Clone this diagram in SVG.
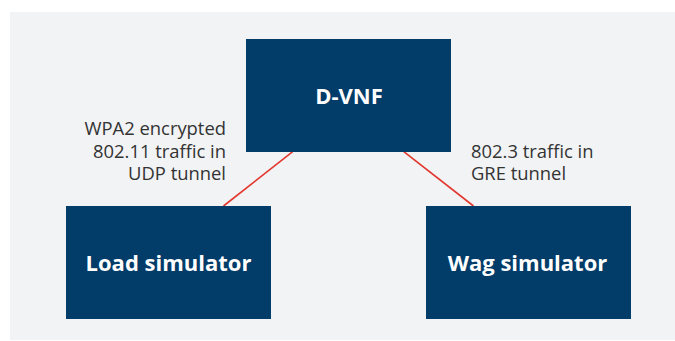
<svg xmlns="http://www.w3.org/2000/svg" width="675" height="341" viewBox="0 0 675 341">
<style>
.box{fill:#023c69}
.title{font-family:"Open Sans","Liberation Sans",sans-serif;font-weight:700;font-size:22px;fill:#ffffff;text-anchor:middle}
.lbl{font-family:"Open Sans","Liberation Sans",sans-serif;font-size:18.4px;fill:#333333}
.conn{stroke:#e2372e;stroke-width:1.6;fill:none}
</style>
<rect x="0" y="0" width="675" height="341" fill="#ffffff"/>
<rect x="10" y="12" width="665" height="328" fill="#f2f3f5"/>
<g id="connectors">
<line class="conn" x1="292.7" y1="151.7" x2="223.5" y2="206"/>
<line class="conn" x1="403.8" y1="151.7" x2="473.5" y2="206"/>
</g>
<g id="dvnf">
<rect class="box" x="246" y="39" width="205" height="113"/>
<text class="title" x="349" y="104">D-VNF</text>
</g>
<g id="load">
<rect class="box" x="66" y="206" width="205" height="113"/>
<text class="title" x="168.5" y="270.5">Load simulator</text>
</g>
<g id="wag">
<rect class="box" x="426" y="206" width="205" height="113"/>
<text class="title" x="527.5" y="270.5">Wag simulator</text>
</g>
<g id="labels">
<text class="lbl" text-anchor="end" x="226" y="135">WPA2 encrypted</text>
<text class="lbl" text-anchor="end" x="226" y="157.5">802.11 traffic in</text>
<text class="lbl" text-anchor="end" x="226" y="180">UDP tunnel</text>
<text class="lbl" x="471" y="157.5">802.3 traffic in</text>
<text class="lbl" x="471" y="180">GRE tunnel</text>
</g>
</svg>
